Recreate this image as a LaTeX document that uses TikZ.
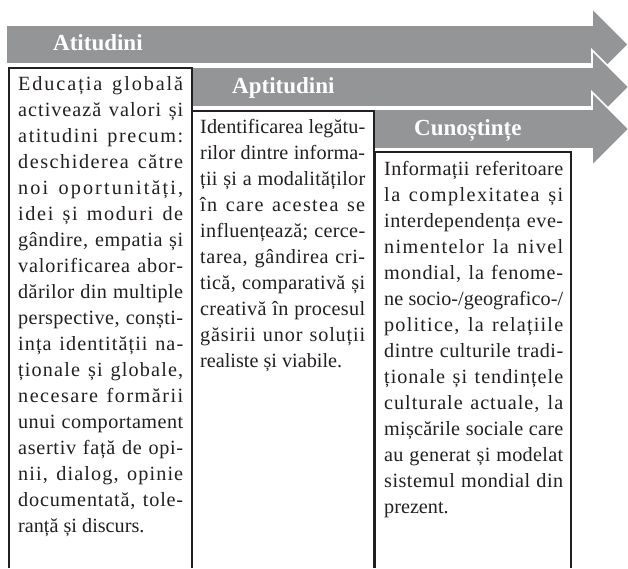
\documentclass[tikz,border=0pt]{standalone}
\usepackage{fontspec}
\setmainfont{Liberation Serif}
\definecolor{arrowgray}{RGB}{148,149,151}
\definecolor{ink}{RGB}{35,31,32}
\tolerance=10000
\hyphenpenalty=10000
\exhyphenpenalty=10000
\XeTeXinterchartoks 0 0 = {\nobreak\hskip 0pt plus 1pt\relax}
\newcommand{\spreadletters}{\XeTeXinterchartokenstate=1 }
\tikzset{
  bandarrow/.style={fill=arrowgray, draw=white, line width=1.6pt, line join=miter},
  bandlabel/.style={text=white, font=\fontsize{23}{26}\selectfont\bfseries, anchor=base west, inner sep=0pt},
  framebox/.style={draw=ink, line width=1.1pt},
  bodytext/.style={text=ink, anchor=north west, inner sep=0pt, align=justify,
    font=\fontsize{20.2}{26}\selectfont\spreadletters}
}
\begin{document}
\begin{tikzpicture}[x=1pt,y=-1pt]
\useasboundingbox[fill=white] (0,0) rectangle (628,568);
% arrows
\draw[bandarrow] (6,25) -- (592,25) -- (592,8) -- (628.5,44.5) -- (592,81) -- (592,64) -- (6,64) -- cycle;
\node[bandlabel] (l1) at (53,50.5) {Atitudini};
\draw[bandarrow] (192,67) -- (592,67) -- (592,50) -- (629,87) -- (592,124) -- (592,107) -- (192,107) -- cycle;
\node[bandlabel] (l2) at (232,93) {Aptitudini};
\draw[bandarrow] (374,109) -- (592,109) -- (592,92) -- (629,129) -- (592,166) -- (592,149) -- (374,149) -- cycle;
\node[bandlabel] (l3) at (414,135) {Cunoștințe};
% boxes
\draw[framebox] (9,568) -- (9,68) -- (192,68) -- (192,568);
\draw[framebox] (192,568) -- (192,111) -- (374,111) -- (374,568);
\draw[framebox] (375,568) -- (375,152) -- (571,152) -- (571,568);
% texts
\node[bodytext, text width=165pt] (t1) at (18,71.8) {\strut Educația globală\linebreak
activează valori și\linebreak
atitudini precum:\linebreak
deschiderea către\linebreak
noi oportunități,\linebreak
idei și moduri de\linebreak
gândire, empatia și\linebreak
valorificarea abor-\linebreak
dărilor din multiple\linebreak
perspective, conști-\linebreak
ința identității na-\linebreak
ționale și globale,\linebreak
necesare formării\linebreak
unui comportament\linebreak
asertiv față de opi-\linebreak
nii, dialog, opinie\linebreak
documentată, tole-\linebreak
ranță și discurs.};
\node[bodytext, text width=165pt] (t2) at (200,115) {\strut Identificarea legătu-\linebreak
rilor dintre informa-\linebreak
ții și a modalităților\linebreak
în care acestea se\linebreak
influențează; cerce-\linebreak
tarea, gândirea cri-\linebreak
tică, comparativă și\linebreak
creativă în procesul\linebreak
găsirii unor soluții\linebreak
realiste și viabile.};
\node[bodytext, text width=179pt] (t3) at (384,157) {\strut Informații referitoare\linebreak
la complexitatea și\linebreak
interdependența eve-\linebreak
nimentelor la nivel\linebreak
mondial, la fenome-\linebreak
ne socio-/geografico-/\linebreak
politice, la relațiile\linebreak
dintre culturile tradi-\linebreak
ționale și tendințele\linebreak
culturale actuale, la\linebreak
mișcările sociale care\linebreak
au generat și modelat\linebreak
sistemul mondial din\linebreak
prezent.};
\end{tikzpicture}
\end{document}
